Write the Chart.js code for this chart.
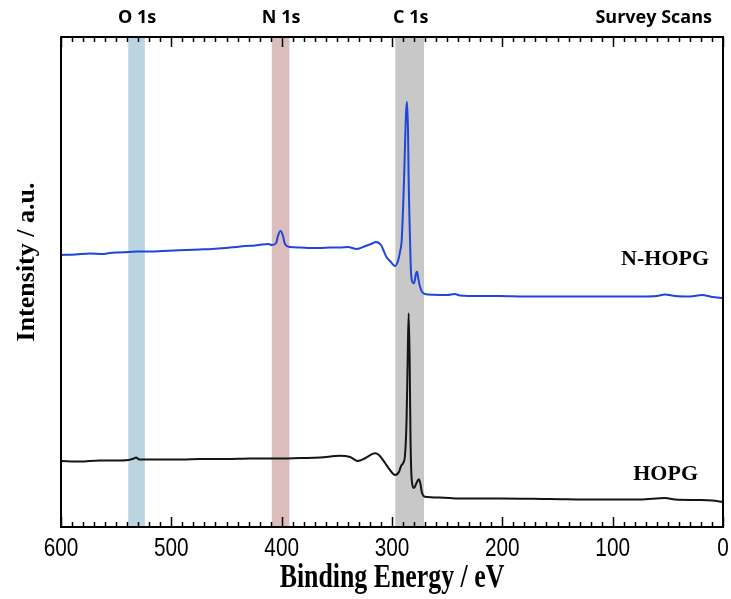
<!DOCTYPE html>
<html>
<head>
<meta charset="utf-8">
<script src="https://cdn.jsdelivr.net/npm/chart.js@4/dist/chart.umd.min.js"></script>
<style>
  html, body { margin: 0; padding: 0; background: #ffffff; }
  #wrap { width: 731px; height: 599px; }
</style>
</head>
<body>
<div id="wrap"><canvas id="c" width="731" height="599"></canvas></div>
<script>
// ---- data (binding energy in eV, intensity in arbitrary units) ----
const energyNHOPG = [600, 587, 574, 562, 556, 548, 539, 530, 519, 508, 497, 486, 474, 463, 451, 442, 433, 424, 418, 412, 409, 405, 403.4, 401, 398.8, 397, 392.4, 383, 374, 365, 356, 347, 340, 332, 324, 318, 314.5, 310, 305, 301, 297.3, 294.3, 292.7, 291.2, 289.1, 287.3, 286.4, 285.5, 284.9, 284.3, 283, 282.1, 280, 278.2, 277.3, 276.2, 274.6, 272.5, 270.1, 262.6, 250, 243, 238.4, 220, 202, 180, 157, 135, 111.5, 90, 75, 60, 52.6, 43.5, 30, 19, 10, 0];
const intensityNHOPG = [272, 272.5, 273.5, 273, 274, 274.5, 275, 275.5, 275.5, 276, 276.5, 277, 277.5, 278, 279, 280, 281, 281.5, 282.5, 283, 282, 284, 291, 296, 291, 283, 280, 279.5, 279, 279, 279.5, 279.5, 280, 278, 281, 283.5, 285, 282, 270, 265, 261, 267, 275.3, 287, 347, 413.7, 425.3, 397, 347, 313.7, 260.3, 247, 243.7, 253.7, 255.3, 248.7, 240.3, 234.7, 233, 232.3, 232, 233, 231.5, 231, 231, 230.5, 230.5, 230.5, 230.5, 230.5, 230.5, 231, 232.5, 231, 230.5, 232, 230, 229];

const energyHOPG = [600, 583, 565, 550, 539, 534, 532, 529, 510, 490, 474, 450, 429, 405, 383, 365, 347, 338, 331, 324, 315.4, 311.8, 306.3, 301.8, 297.3, 293.7, 291.8, 290, 288.2, 286.8, 285.8, 284.9, 284, 283.2, 282.1, 280, 278.2, 275.8, 274.2, 273.1, 270.1, 256.5, 238.4, 202, 157, 111.5, 75, 52.6, 43.5, 21, 10, 0];
const intensityHOPG = [66, 65.5, 66.5, 66.5, 67, 68.5, 69.5, 67.5, 67.5, 67.5, 68, 68, 68.5, 68.5, 69, 69.5, 71.3, 70, 66, 69, 73.7, 72, 64, 57, 52, 55, 61, 63.7, 72, 107, 167, 213.7, 167, 87, 47, 39, 43, 47.7, 43, 35.3, 30.3, 29.5, 28.5, 28.5, 28, 27.5, 27.5, 29, 27.5, 27, 26.5, 25];

// core-level marker bands (eV)
const bandNames = ['O 1s', 'N 1s', 'C 1s'];
const bandLow = [524, 393, 271];
const bandHigh = [539, 409, 297];
const bandLabelAt = [531, 400.5, 283];
const bandColors = ['rgba(186,213,224,1)', 'rgba(219,189,189,1)', 'rgba(200,200,200,1)'];

const seriesNames = ['N-HOPG', 'HOPG'];
const seriesLabelAt = [{x: 52.5, y: 268}, {x: 52, y: 53}];

const xMin = 0, xMax = 600, xStep = 100, xMinorStep = 10;
const yMin = 0, yMax = 490;

function pts(xs, ys) { return xs.map((v, i) => ({x: v, y: ys[i]})); }

const decor = {
  id: 'decor',
  beforeDatasetsDraw(chart) {
    const {ctx, chartArea: a, scales: {x}} = chart;
    ctx.save();
    for (let i = 0; i < bandNames.length; i++) {
      const p1 = x.getPixelForValue(bandHigh[i]);
      const p2 = x.getPixelForValue(bandLow[i]);
      ctx.fillStyle = bandColors[i];
      ctx.fillRect(Math.min(p1, p2), a.top, Math.abs(p2 - p1), a.bottom - a.top);
    }
    ctx.restore();
  },
  afterDraw(chart) {
    const {ctx, chartArea: a, scales: {x, y}} = chart;
    ctx.save();
    // frame
    ctx.strokeStyle = '#000';
    ctx.lineWidth = 2;
    ctx.strokeRect(a.left, a.top, a.right - a.left, a.bottom - a.top);
    // inward ticks top & bottom
    ctx.lineWidth = 1.5;
    for (let v = xMin; v <= xMax; v += xMinorStep) {
      const px = Math.round(x.getPixelForValue(v)) + 0.5;
      const len = (v % xStep === 0) ? 10 : 5;
      ctx.beginPath();
      ctx.moveTo(px, a.top); ctx.lineTo(px, a.top + len);
      ctx.moveTo(px, a.bottom); ctx.lineTo(px, a.bottom - len);
      ctx.stroke();
    }
    // tick labels from the scale's own ticks (narrow glyphs as in the reference)
    ctx.fillStyle = '#000';
    ctx.textAlign = 'center';
    ctx.textBaseline = 'middle';
    for (const t of x.ticks) {
      ctx.save();
      ctx.translate(x.getPixelForValue(t.value), 549);
      ctx.scale(0.8, 1);
      ctx.font = '26px "Liberation Sans", Arial, sans-serif';
      ctx.fillText(String(t.value), 0, 0);
      ctx.restore();
    }
    // band labels on top
    ctx.font = 'bold 18px "Open Sans", "Liberation Sans", sans-serif';
    ctx.textBaseline = 'alphabetic';
    ctx.textAlign = 'center';
    for (let i = 0; i < bandNames.length; i++) {
      ctx.fillText(bandNames[i], x.getPixelForValue(bandLabelAt[i]), 23);
    }
    ctx.textAlign = 'right';
    ctx.fillText('Survey Scans', x.getPixelForValue(10), 23);
    // series labels
    ctx.font = 'bold 22px "Liberation Serif", "Times New Roman", serif';
    ctx.textAlign = 'center';
    ctx.textBaseline = 'middle';
    for (let i = 0; i < seriesNames.length; i++) {
      ctx.fillText(seriesNames[i], x.getPixelForValue(seriesLabelAt[i].x), y.getPixelForValue(seriesLabelAt[i].y));
    }
    // y axis title
    ctx.save();
    ctx.translate(27, 262);
    ctx.rotate(-Math.PI / 2);
    ctx.font = 'bold 26px "Liberation Serif", "Times New Roman", serif';
    ctx.textAlign = 'center';
    ctx.textBaseline = 'middle';
    ctx.fillText('Intensity / a.u.', 0, 0);
    ctx.restore();
    // x axis title (tall, narrow glyphs as in the reference)
    ctx.save();
    ctx.translate((a.left + a.right) / 2, 578);
    ctx.scale(0.76, 1);
    ctx.font = 'bold 34px "Liberation Serif", "Times New Roman", serif';
    ctx.textAlign = 'center';
    ctx.textBaseline = 'middle';
    ctx.fillText('Binding Energy / eV', 0, 0);
    ctx.restore();
    ctx.restore();
  }
};

new Chart(document.getElementById('c'), {
  type: 'line',
  data: {
    datasets: [
      {
        label: seriesNames[0],
        data: pts(energyNHOPG, intensityNHOPG),
        borderColor: '#1e46dc',
        borderWidth: 2,
        pointRadius: 0,
        cubicInterpolationMode: 'monotone',
        fill: false
      },
      {
        label: seriesNames[1],
        data: pts(energyHOPG, intensityHOPG),
        borderColor: '#141414',
        borderWidth: 2,
        pointRadius: 0,
        cubicInterpolationMode: 'monotone',
        fill: false
      }
    ]
  },
  options: {
    responsive: false,
    animation: false,
    layout: { padding: { left: 61, right: 8, top: 37, bottom: 72 } },
    plugins: { legend: { display: false }, tooltip: { enabled: false } },
    scales: {
      x: {
        type: 'linear',
        display: false,
        reverse: true,
        min: xMin, max: xMax,
        ticks: { stepSize: xStep }
      },
      y: {
        display: false,
        min: yMin, max: yMax
      }
    }
  },
  plugins: [decor]
});
</script>
</body>
</html>
